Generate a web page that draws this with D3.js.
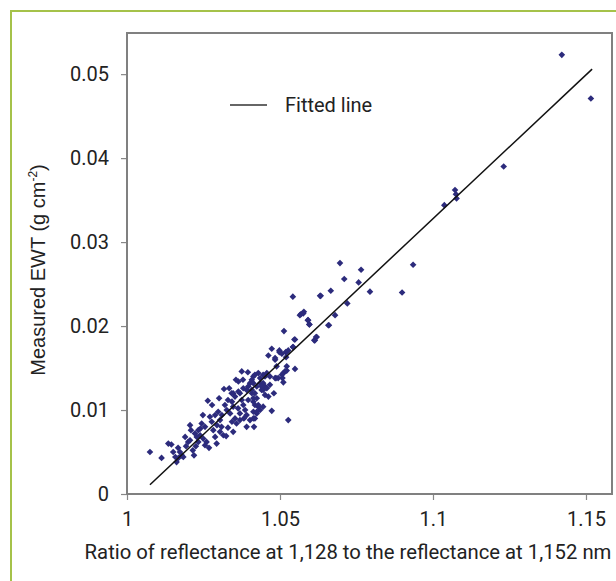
<!DOCTYPE html>
<html>
<head>
<meta charset="utf-8">
<script src="https://d3js.org/d3.v7.min.js"></script>
<style>
  body { margin: 0; background: #fff; }
  svg { display: block; }
  text { fill: #222; }
</style>
</head>
<body>
<svg id="chart" width="616" height="581"></svg>
<script>
// Ratio values (x) and measured EWT (y)
var ratioValues = [
  1.1421, 1.1516, 1.1231, 1.1072, 1.1075, 1.1077, 1.1037, 1.0935, 1.0899, 1.0696,
  1.0765, 1.0710, 1.0757, 1.0794, 1.0666, 1.0633, 1.0542, 1.0720, 1.0680, 1.0660,
  1.0568, 1.0578, 1.0591, 1.0596, 1.0618, 1.0612, 1.0513, 1.0547, 1.0462, 1.0473,
  1.0498, 1.0484, 1.0519, 1.0542, 1.0549, 1.0522, 1.0487, 1.0508, 1.0511, 1.0480,
  1.0473, 1.0527, 1.0451,
  1.0075, 1.0113, 1.0135, 1.0145, 1.0151, 1.0158, 1.0162, 1.0168, 1.0179, 1.0184,
  1.0173, 1.0190, 1.0200, 1.0206, 1.0206, 1.0215, 1.0219, 1.0209, 1.0222, 1.0233,
  1.0239, 1.0228, 1.0233, 1.0244, 1.0255, 1.0249, 1.0260, 1.0240, 1.0264, 1.0271,
  1.0277, 1.0282, 1.0288, 1.0293, 1.0298, 1.0304, 1.0309, 1.0315, 1.0324, 1.0317,
  1.0334, 1.0342, 1.0320, 1.0326, 1.0337, 1.0347, 1.0353, 1.0358, 1.0347, 1.0356,
  1.0364, 1.0375, 1.0369, 1.0375, 1.0380, 1.0386, 1.0391, 1.0396, 1.0408, 1.0413,
  1.0418, 1.0424, 1.0402, 1.0391, 1.0369, 1.0413, 1.0424, 1.0435, 1.0445, 1.0457,
  1.0415, 1.0429, 1.0347, 1.0353, 1.0364, 1.0380, 1.0391, 1.0396, 1.0402, 1.0408,
  1.0413, 1.0418, 1.0429, 1.0435, 1.0445, 1.0451, 1.0457, 1.0440, 1.0451, 1.0462,
  1.0435, 1.0445, 1.0467, 1.0467, 1.0445, 1.0413, 1.0418, 1.0278, 1.0288, 1.0294,
  1.0310, 1.0330, 1.0343, 1.0363, 1.0369, 1.0382, 1.0255, 1.0268, 1.0304, 1.0330,
  1.0343, 1.0225, 1.0193, 1.0167, 1.0248, 1.0301, 1.0379, 1.0395,
  1.0440, 1.0408, 1.0418, 1.0424, 1.0413, 1.0429, 1.0424, 1.0413, 1.0484, 1.0494,
  1.0506, 1.0511, 1.0516, 1.0522, 1.0489, 1.0484, 1.0498, 1.0506, 1.0522, 1.0527,
  1.0520, 1.0543, 1.0549, 1.0565, 1.0576, 1.0592, 1.0596, 1.0614, 1.0620, 1.0658,
  1.0631
];

var ewtValues = [
  0.0523, 0.0471, 0.0390, 0.0362, 0.0357, 0.0352, 0.0344, 0.0273, 0.0240, 0.0275,
  0.0267, 0.0256, 0.0252, 0.0241, 0.0242, 0.0236, 0.0235, 0.0227, 0.0213, 0.0201,
  0.0214, 0.0217, 0.0207, 0.0202, 0.0187, 0.0183, 0.0194, 0.0184, 0.0165, 0.0173,
  0.0171, 0.0162, 0.0169, 0.0175, 0.0149, 0.0152, 0.0138, 0.0138, 0.0133, 0.0120,
  0.0099, 0.0088, 0.0128,
  0.0050, 0.0043, 0.0060, 0.0059, 0.0050, 0.0044, 0.0038, 0.0043, 0.0046, 0.0044,
  0.0050, 0.0068, 0.0062, 0.0064, 0.0082, 0.0052, 0.0046, 0.0076, 0.0072, 0.0076,
  0.0070, 0.0068, 0.0062, 0.0084, 0.0080, 0.0066, 0.0062, 0.0078, 0.0111, 0.0092,
  0.0086, 0.0076, 0.0068, 0.0060, 0.0098, 0.0088, 0.0080, 0.0070, 0.0069, 0.0125,
  0.0126, 0.0120, 0.0106, 0.0100, 0.0096, 0.0104, 0.0090, 0.0084, 0.0074, 0.0136,
  0.0134, 0.0146, 0.0120, 0.0112, 0.0106, 0.0100, 0.0094, 0.0112, 0.0120, 0.0114,
  0.0106, 0.0096, 0.0088, 0.0080, 0.0096, 0.0132, 0.0128, 0.0132, 0.0124, 0.0126,
  0.0080, 0.0104, 0.0120, 0.0116, 0.0122, 0.0126, 0.0124, 0.0128, 0.0132, 0.0136,
  0.0140, 0.0142, 0.0144, 0.0138, 0.0132, 0.0140, 0.0144, 0.0124, 0.0118, 0.0116,
  0.0100, 0.0104, 0.0140, 0.0130, 0.0142, 0.0098, 0.0090, 0.0106, 0.0094, 0.0082,
  0.0094, 0.0112, 0.0110, 0.0102, 0.0088, 0.0090, 0.0058, 0.0055, 0.0074, 0.0079,
  0.0086, 0.0057, 0.0057, 0.0055, 0.0094, 0.0114, 0.0136, 0.0145,
  0.0128, 0.0124, 0.0120, 0.0114, 0.0110, 0.0106, 0.0098, 0.0090, 0.0138, 0.0138,
  0.0142, 0.0144, 0.0146, 0.0147, 0.0152, 0.0160, 0.0169, 0.0167, 0.0169, 0.0171,
  0.0163, 0.0175, 0.0184, 0.0213, 0.0215, 0.0207, 0.0202, 0.0183, 0.0187, 0.0201,
  0.0236
];

// Fitted line end points
var fitX = [1.0075, 1.152];
var fitY = [0.0011, 0.0506];

// Tick values and labels
var xTicks = [1, 1.05, 1.1, 1.15];
var xTickLabels = ['1', '1.05', '1.1', '1.15'];
var yTicks = [0, 0.01, 0.02, 0.03, 0.04, 0.05];
var yTickLabels = ['0', '0.01', '0.02', '0.03', '0.04', '0.05'];

var points = ratioValues.map(function(d, i) {
  return { x: d, y: ewtValues[i] };
});

var svg = d3.select('#chart');

// green frame round the figure (runs off the right and bottom)
svg.append('rect')
  .attr('x', 11)
  .attr('y', 11)
  .attr('width', 700)
  .attr('height', 700)
  .attr('fill', 'none')
  .attr('stroke', '#a5c24a')
  .attr('stroke-width', 2);

// plot box edges ("top" is taken by window.top, hence the names)
var boxLeft = 127, boxTop = 33, boxRight = 612, boxBottom = 494;

var x = d3.scaleLinear().domain([1, 1.1585]).range([boxLeft, boxRight]);
var y = d3.scaleLinear().domain([0, 0.0549]).range([boxBottom, boxTop]);

var font = 'Roboto, sans-serif';

// x axis
var xAxis = svg.append('g')
  .attr('transform', 'translate(0,' + boxBottom + ')')
  .call(
    d3.axisBottom(x)
      .tickValues(xTicks)
      .tickFormat(function(d, i) { return xTickLabels[i]; })
      .tickSize(6)
      .tickSizeOuter(0)
      .tickPadding(12)
  );

// y axis
var yAxis = svg.append('g')
  .attr('transform', 'translate(' + boxLeft + ',0)')
  .call(
    d3.axisLeft(y)
      .tickValues(yTicks)
      .tickFormat(function(d, i) { return yTickLabels[i]; })
      .tickSize(6)
      .tickSizeOuter(0)
      .tickPadding(12)
  );

[xAxis, yAxis].forEach(function(ax) {
  ax.select('.domain').remove();
  ax.selectAll('line').attr('stroke', '#888').attr('stroke-width', 1.2);
  ax.selectAll('text')
    .attr('font-family', font)
    .attr('font-size', 20)
    .attr('fill', '#333');
});

// plot box
svg.append('rect')
  .attr('x', boxLeft)
  .attr('y', boxTop)
  .attr('width', boxRight - boxLeft)
  .attr('height', boxBottom - boxTop)
  .attr('fill', 'none')
  .attr('stroke', '#808080')
  .attr('stroke-width', 2);

// data points
var marker = d3.symbol().type(d3.symbolSquare).size(22);

svg.append('g')
  .selectAll('path')
  .data(points)
  .enter()
  .append('path')
  .attr('d', marker)
  .attr('transform', function(d) {
    return 'translate(' + x(d.x) + ',' + y(d.y) + ') rotate(45)';
  })
  .attr('fill', '#2c2b7c');

// fitted line
var line = d3.line()
  .x(function(d) { return x(d[0]); })
  .y(function(d) { return y(d[1]); });

svg.append('path')
  .datum(fitX.map(function(d, i) { return [d, fitY[i]]; }))
  .attr('d', line)
  .attr('fill', 'none')
  .attr('stroke', '#111')
  .attr('stroke-width', 1.5);

// legend
svg.append('line')
  .attr('x1', 230)
  .attr('x2', 267)
  .attr('y1', 105)
  .attr('y2', 105)
  .attr('stroke', '#333')
  .attr('stroke-width', 1.5);

svg.append('text')
  .attr('x', 285)
  .attr('y', 112)
  .attr('font-family', font)
  .attr('font-size', 20)
  .text('Fitted line');

// axis titles
svg.append('text')
  .attr('x', 348)
  .attr('y', 559)
  .attr('text-anchor', 'middle')
  .attr('font-family', font)
  .attr('font-size', 20.3)
  .text('Ratio of reflectance at 1,128 to the reflectance at 1,152 nm');

var yTitle = svg.append('text')
  .attr('transform', 'translate(45,270) rotate(-90)')
  .attr('text-anchor', 'middle')
  .attr('font-family', '"Liberation Sans", Arial, sans-serif')
  .attr('font-size', 20);

yTitle.append('tspan').text('Measured EWT (g cm');
yTitle.append('tspan')
  .attr('font-size', 12)
  .attr('dy', -8)
  .text('-2');
yTitle.append('tspan')
  .attr('dy', 8)
  .text(')');
</script>
</body>
</html>
